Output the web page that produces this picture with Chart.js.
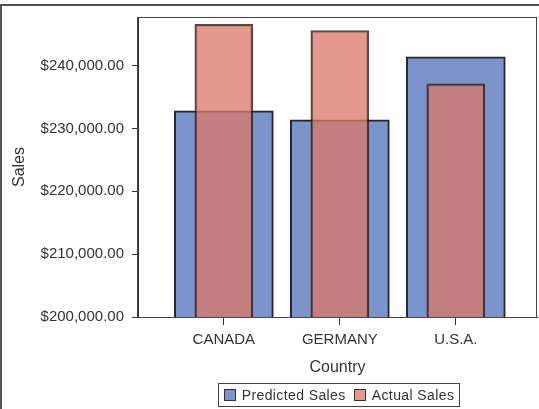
<!DOCTYPE html>
<html>
<head>
<meta charset="utf-8">
<script src="https://cdn.jsdelivr.net/npm/chart.js@4.4.0/dist/chart.umd.min.js"></script>
<style>
  html, body { margin: 0; padding: 0; background: #fff; }
  #wrap { position: relative; width: 539px; height: 409px; overflow: hidden; font-family: "Liberation Sans", Arial, sans-serif; }
  #frame { position: absolute; left: 0; top: 4px; width: 600px; height: 500px; border-left: 2px solid #555; border-top: 2px solid #555; }
  #myChart { position: absolute; left: 0; top: 0; }
  #legend {
    position: absolute; left: 218px; top: 383px; width: 242px; height: 24px;
    box-sizing: border-box; border: 1.5px solid #444;
    display: flex; align-items: center; justify-content: center; gap: 8px;
    font-size: 14px; color: #333; letter-spacing: 0.4px;
  }
  #legend .item { display: flex; align-items: center; gap: 6px; }
  #legend .swatch { width: 10px; height: 10px; border: 1px solid #333; }
</style>
</head>
<body>
<div id="wrap">
  <div id="frame"></div>
  <canvas id="myChart" width="539" height="409"></canvas>
  <div id="legend"></div>
</div>
<script>
'use strict';

var categories = ['CANADA', 'GERMANY', 'U.S.A.'];
var predictedSales = [232800, 231400, 241400];
var actualSales = [246600, 245600, 237100];
var yTicks = [200000, 210000, 220000, 230000, 240000];

Chart.defaults.font.family = '"Liberation Sans", Arial, sans-serif';
Chart.defaults.color = '#333';

// frame around the plot area
var plotFrame = {
  id: 'plotFrame',
  afterDatasetsDraw: function (chart) {
    var ctx = chart.ctx;
    var a = chart.chartArea;
    ctx.save();
    ctx.strokeStyle = '#444';
    ctx.lineWidth = 1;
    ctx.strokeRect(a.left - 0.5, a.top + 0.5, a.right - a.left, a.bottom - a.top);
    ctx.restore();
  }
};

function toPoints(values) {
  return values.map(function (v, i) { return { x: i, y: v }; });
}

function money(v) {
  return '$' + v.toLocaleString('en-US', { minimumFractionDigits: 2, maximumFractionDigits: 2 });
}

var ctx = document.getElementById('myChart').getContext('2d');
var chart = new Chart(ctx, {
  type: 'bar',
  data: {
    datasets: [{
      label: 'Predicted Sales',
      data: toPoints(predictedSales),
      backgroundColor: '#7b94cb',
      borderColor: '#262626',
      borderWidth: 2,
      barThickness: 99,
      order: 2
    },
    {
      label: 'Actual Sales',
      data: toPoints(actualSales),
      backgroundColor: 'rgba(219, 121, 104, 0.76)',
      borderColor: 'rgba(40, 25, 25, 0.8)',
      borderWidth: 2,
      barThickness: 58,
      order: 1
    }]
  },
  options: {
    responsive: false,
    animation: false,
    grouped: false,
    layout: { padding: { left: 8, top: 15, right: 2, bottom: 26 } },
    plugins: {
      legend: { display: false },
      tooltip: { enabled: false }
    },
    scales: {
      x: {
        type: 'linear',
        offset: false,
        min: -0.74,
        max: 2.7,
        afterBuildTicks: function (s) {
          s.ticks = categories.map(function (c, i) { return { value: i }; });
        },
        afterFit: function (s) { s.height = 66; },
        ticks: {
          callback: function (v) { return categories[v]; },
          font: { size: 15 },
          color: '#333',
          padding: 6,
          autoSkip: false,
          maxRotation: 0
        },
        grid: { offset: false, drawOnChartArea: false, drawTicks: true, tickLength: 8, color: '#333' },
        border: { color: '#333', width: 1 },
        title: { display: true, text: 'Country', font: { size: 16 }, color: '#333', padding: { top: 4, bottom: 6 } }
      },
      y: {
        min: 200000,
        max: 247750,
        afterBuildTicks: function (s) {
          s.ticks = yTicks.map(function (v) { return { value: v }; });
        },
        afterFit: function (s) { s.width = 130; },
        ticks: {
          callback: function (v) { return money(v); },
          font: { size: 15 },
          color: '#333',
          padding: 8
        },
        grid: { drawOnChartArea: false, drawTicks: true, tickLength: 6, color: '#333' },
        border: { color: '#333', width: 1 },
        title: { display: true, text: 'Sales', font: { size: 16 }, color: '#333', padding: { top: 2, bottom: 0 } }
      }
    }
  },
  plugins: [plotFrame]
});

// legend built from the datasets
var legend = document.getElementById('legend');
chart.data.datasets.forEach(function (ds) {
  var item = document.createElement('div');
  item.className = 'item';
  var sw = document.createElement('span');
  sw.className = 'swatch';
  sw.style.background = ds.backgroundColor;
  var txt = document.createElement('span');
  txt.textContent = ds.label;
  item.appendChild(sw);
  item.appendChild(txt);
  legend.appendChild(item);
});
</script>
</body>
</html>
